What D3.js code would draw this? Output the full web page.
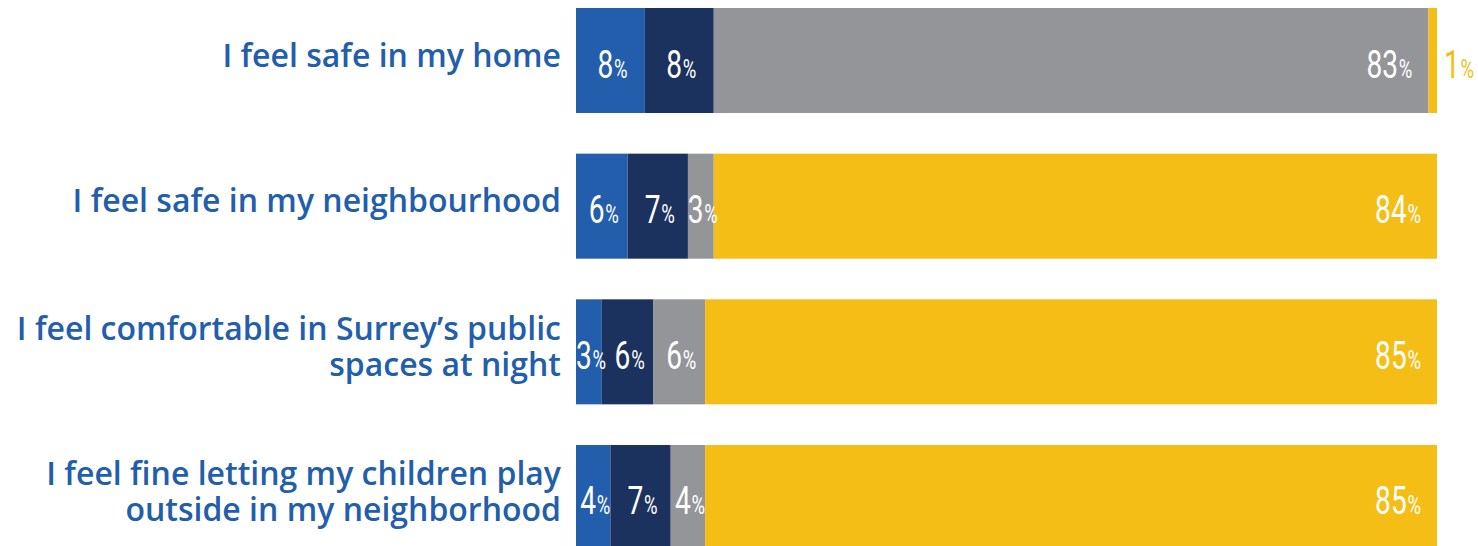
<!DOCTYPE html>
<html>
<head>
<meta charset="utf-8">
<script src="https://cdn.jsdelivr.net/npm/d3@7"></script>
<style>
  html, body { margin: 0; padding: 0; background: #fff; }
  #stage { width: 1478px; height: 546px; overflow: hidden; }
</style>
</head>
<body>
<div id="stage"></div>
<script>
// categories (one array of lines per row)
const categories = [
  ["I feel safe in my home"],
  ["I feel safe in my neighbourhood"],
  ["I feel comfortable in Surrey\u2019s public", "spaces at night"],
  ["I feel fine letting my children play", "outside in my neighborhood"]
];

// series values, percent
const seriesA = [8, 6, 3, 4];
const seriesB = [8, 7, 6, 7];
const seriesC = [83, 3, 6, 4];
const seriesD = [1, 84, 85, 85];

const colors = ["#225eab", "#1b325f", "#949599", "#f5be16"];

const stage = document.querySelector('#stage');
const width = 1478;
const height = 546;

const svg = d3.select(stage).append("svg")
  .attr("width", width)
  .attr("height", height);

const rowIdx = d3.range(categories.length);

const xScale = d3.scaleLinear().domain([0, 100]).range([576, 1437]);
const yScale = d3.scaleBand().domain(rowIdx).range([8, 550]).paddingInner(0.279).paddingOuter(0);

const series = [seriesA, seriesB, seriesC, seriesD];
const table = rowIdx.map(i => {
  const row = { i };
  series.forEach((s, k) => row["s" + k] = s[i]);
  return row;
});
const stacked = d3.stack().keys(series.map((s, k) => "s" + k))(table);

// bars
const layers = svg.append("g").selectAll("g")
  .data(stacked)
  .join("g")
  .attr("fill", (d, k) => colors[k]);

layers.selectAll("rect")
  .data(d => d)
  .join("rect")
  .attr("x", d => xScale(d[0]))
  .attr("y", d => yScale(d.data.i))
  .attr("width", d => xScale(d[1]) - xScale(d[0]))
  .attr("height", yScale.bandwidth());

// value labels (condensed look via horizontal scale)
const valueFont = "'Roboto', 'Liberation Sans', sans-serif";
stacked.forEach((layer, k) => {
  layer.forEach(d => {
    const v = d[1] - d[0];
    const x0 = xScale(d[0]), x1 = xScale(d[1]);
    const w = x1 - x0;
    const cy = yScale(d.data.i) + yScale.bandwidth() / 2;
    let x, anchor, fill = "#fff";
    if (w < 15) {
      x = x1 + 7; anchor = "start"; fill = colors[k];
    } else if (w > 150) {
      x = x1 - 16; anchor = "end";
    } else {
      x = (x0 + x1) / 2 + 2; anchor = "middle";
    }
    const t = svg.append("g")
      .attr("transform", `translate(${x},${cy + 17}) scale(0.74,1)`)
      .append("text")
      .attr("text-anchor", anchor)
      .attr("fill", fill)
      .style("font-family", valueFont)
      .style("font-size", "38px");
    t.append("tspan").text(v);
    t.append("tspan").style("font-size", "25px").attr("dx", 1).text("%");
  });
});

// category labels
const labelG = svg.append("g");
categories.forEach((lines, i) => {
  const cy = yScale(i) + yScale.bandwidth() / 2;
  lines.forEach((line, j) => {
    const by = cy + 6 + (j - (lines.length - 1) / 2) * 36;
    labelG.append("g")
      .attr("transform", `translate(561,${by}) scale(0.97,1)`)
      .append("text")
      .attr("text-anchor", "end")
      .attr("fill", "#225eab")
      .style("font-family", "'Open Sans', 'Noto Sans', sans-serif")
      .style("font-weight", 600)
      .style("font-size", "33px")
      .text(line);
  });
});
</script>
</body>
</html>
